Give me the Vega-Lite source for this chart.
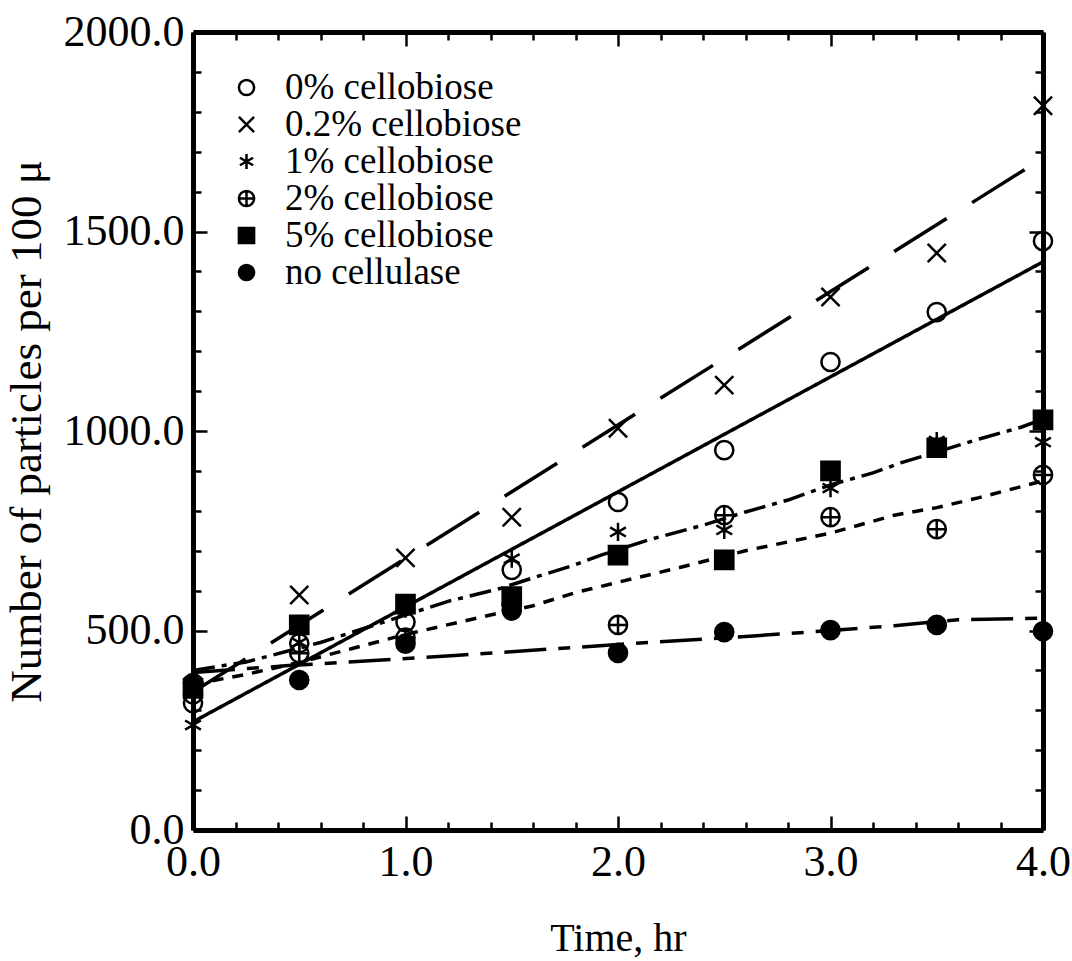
{
  "$schema": "https://vega.github.io/schema/vega-lite/v6.json",
  "width": 850,
  "height": 798,
  "autosize": {"type": "none"},
  "padding": {"left": 193, "top": 32, "right": 29, "bottom": 131},
  "background": "white",
  "config": {
    "font": "Liberation Serif",
    "view": {"stroke": null},
    "axis": {"grid": false, "domainColor": "black", "domainWidth": 5, "tickColor": "black", "tickWidth": 2.5, "labelColor": "black", "titleColor": "black", "labelOverlap": false, "labelBound": false, "labelFlush": false, "titleFontWeight": "normal"}
  },
  "datasets": {
    "points": [
      {"series": "0% cellobiose", "time": 0, "count": 318},
      {"series": "0% cellobiose", "time": 0.5, "count": 468},
      {"series": "0% cellobiose", "time": 1, "count": 521},
      {"series": "0% cellobiose", "time": 1.5, "count": 652},
      {"series": "0% cellobiose", "time": 2, "count": 822},
      {"series": "0% cellobiose", "time": 2.5, "count": 952},
      {"series": "0% cellobiose", "time": 3, "count": 1173},
      {"series": "0% cellobiose", "time": 3.5, "count": 1298},
      {"series": "0% cellobiose", "time": 4, "count": 1476},
      {"series": "0.2% cellobiose", "time": 0, "count": 360},
      {"series": "0.2% cellobiose", "time": 0.5, "count": 589},
      {"series": "0.2% cellobiose", "time": 1, "count": 682},
      {"series": "0.2% cellobiose", "time": 1.5, "count": 784},
      {"series": "0.2% cellobiose", "time": 2, "count": 1007},
      {"series": "0.2% cellobiose", "time": 2.5, "count": 1115},
      {"series": "0.2% cellobiose", "time": 3, "count": 1336},
      {"series": "0.2% cellobiose", "time": 3.5, "count": 1446},
      {"series": "0.2% cellobiose", "time": 4, "count": 1815},
      {"series": "1% cellobiose", "time": 0, "count": 263},
      {"series": "1% cellobiose", "time": 0.5, "count": 470},
      {"series": "1% cellobiose", "time": 1, "count": 555},
      {"series": "1% cellobiose", "time": 1.5, "count": 680},
      {"series": "1% cellobiose", "time": 2, "count": 747},
      {"series": "1% cellobiose", "time": 2.5, "count": 752},
      {"series": "1% cellobiose", "time": 3, "count": 857},
      {"series": "1% cellobiose", "time": 3.5, "count": 975},
      {"series": "1% cellobiose", "time": 4, "count": 972},
      {"series": "2% cellobiose", "time": 0, "count": 340},
      {"series": "2% cellobiose", "time": 0.5, "count": 443},
      {"series": "2% cellobiose", "time": 1, "count": 482},
      {"series": "2% cellobiose", "time": 1.5, "count": 565},
      {"series": "2% cellobiose", "time": 2, "count": 514},
      {"series": "2% cellobiose", "time": 2.5, "count": 789},
      {"series": "2% cellobiose", "time": 3, "count": 784},
      {"series": "2% cellobiose", "time": 3.5, "count": 754},
      {"series": "2% cellobiose", "time": 4, "count": 890},
      {"series": "5% cellobiose", "time": 0, "count": 355},
      {"series": "5% cellobiose", "time": 0.5, "count": 514},
      {"series": "5% cellobiose", "time": 1, "count": 566},
      {"series": "5% cellobiose", "time": 1.5, "count": 585},
      {"series": "5% cellobiose", "time": 2, "count": 689},
      {"series": "5% cellobiose", "time": 2.5, "count": 677},
      {"series": "5% cellobiose", "time": 3, "count": 900},
      {"series": "5% cellobiose", "time": 3.5, "count": 958},
      {"series": "5% cellobiose", "time": 4, "count": 1028},
      {"series": "no cellulase", "time": 0, "count": 368},
      {"series": "no cellulase", "time": 0.5, "count": 376},
      {"series": "no cellulase", "time": 1, "count": 467},
      {"series": "no cellulase", "time": 1.5, "count": 550},
      {"series": "no cellulase", "time": 2, "count": 444},
      {"series": "no cellulase", "time": 2.5, "count": 496},
      {"series": "no cellulase", "time": 3, "count": 501},
      {"series": "no cellulase", "time": 3.5, "count": 514},
      {"series": "no cellulase", "time": 4, "count": 498}
    ],
    "fits": [
      {"fit": "0%", "time": 0, "count": 271},
      {"fit": "0%", "time": 4, "count": 1424},
      {"fit": "0.2%", "time": 0, "count": 346},
      {"fit": "0.2%", "time": 4, "count": 1684},
      {"fit": "5%", "time": 0, "count": 400},
      {"fit": "5%", "time": 0.25, "count": 421},
      {"fit": "5%", "time": 0.6, "count": 470},
      {"fit": "5%", "time": 1.2, "count": 573},
      {"fit": "5%", "time": 1.45, "count": 606},
      {"fit": "5%", "time": 1.6, "count": 632},
      {"fit": "5%", "time": 1.8, "count": 665},
      {"fit": "5%", "time": 1.92, "count": 689},
      {"fit": "5%", "time": 2.15, "count": 728},
      {"fit": "5%", "time": 2.4, "count": 764},
      {"fit": "5%", "time": 2.6, "count": 797},
      {"fit": "5%", "time": 2.8, "count": 827},
      {"fit": "5%", "time": 3, "count": 865},
      {"fit": "5%", "time": 3.2, "count": 895},
      {"fit": "5%", "time": 3.33, "count": 920},
      {"fit": "5%", "time": 3.7, "count": 980},
      {"fit": "5%", "time": 3.9, "count": 1010},
      {"fit": "5%", "time": 4, "count": 1030},
      {"fit": "2%", "time": 0, "count": 365},
      {"fit": "2%", "time": 0.25, "count": 390},
      {"fit": "2%", "time": 0.5, "count": 420},
      {"fit": "2%", "time": 0.75, "count": 455},
      {"fit": "2%", "time": 1, "count": 490},
      {"fit": "2%", "time": 1.4, "count": 539},
      {"fit": "2%", "time": 1.6, "count": 562},
      {"fit": "2%", "time": 1.8, "count": 595},
      {"fit": "2%", "time": 2, "count": 621},
      {"fit": "2%", "time": 2.3, "count": 659},
      {"fit": "2%", "time": 2.6, "count": 700},
      {"fit": "2%", "time": 3, "count": 744},
      {"fit": "2%", "time": 3.3, "count": 789},
      {"fit": "2%", "time": 3.5, "count": 808},
      {"fit": "2%", "time": 3.7, "count": 833},
      {"fit": "2%", "time": 4, "count": 875},
      {"fit": "none", "time": 0, "count": 395},
      {"fit": "none", "time": 0.45, "count": 412},
      {"fit": "none", "time": 0.85, "count": 425},
      {"fit": "none", "time": 1.25, "count": 438},
      {"fit": "none", "time": 2, "count": 465},
      {"fit": "none", "time": 2.6, "count": 485},
      {"fit": "none", "time": 3, "count": 500},
      {"fit": "none", "time": 3.3, "count": 512},
      {"fit": "none", "time": 3.6, "count": 527},
      {"fit": "none", "time": 4, "count": 531}
    ]
  },
  "layer": [
    {
      "data": {"name": "points"},
      "mark": {"type": "point", "opacity": 0},
      "encoding": {
        "x": {
          "field": "time", "type": "quantitative",
          "scale": {"domain": [0, 4], "nice": false, "zero": false},
          "axis": {
            "orient": "bottom",
            "values": [0, 0.2, 0.4, 0.6, 0.8, 1, 1.2, 1.4, 1.6, 1.8, 2, 2.2, 2.4, 2.6, 2.8, 3, 3.2, 3.4, 3.6, 3.8, 4],
            "labelExpr": "datum.value % 1 === 0 ? format(datum.value, '.1f') : ''",
            "tickSize": {"condition": {"test": "datum.value % 1 === 0", "value": -14}, "value": -8},
            "labelFontSize": 44,
            "labelPadding": 24,
            "title": "Time, hr",
            "titleFontSize": 40,
            "titlePadding": 28
          }
        },
        "y": {
          "field": "count", "type": "quantitative",
          "scale": {"domain": [0, 2000], "nice": false},
          "axis": {
            "orient": "left",
            "values": [0, 100, 200, 300, 400, 500, 600, 700, 800, 900, 1000, 1100, 1200, 1300, 1400, 1500, 1600, 1700, 1800, 1900, 2000],
            "labelExpr": "datum.value % 500 === 0 ? format(datum.value, '.1f') : ''",
            "tickSize": {"condition": {"test": "datum.value % 500 === 0", "value": -14}, "value": -8},
            "labelFontSize": 44,
            "labelPadding": 23,
            "title": "Number of particles per 100 μ",
            "titleFontSize": 45,
            "titlePadding": 14
          }
        }
      }
    },
    {
      "data": {"name": "points"},
      "mark": {"type": "point", "opacity": 0},
      "encoding": {
        "x": {
          "field": "time", "type": "quantitative",
          "scale": {"domain": [0, 4], "nice": false, "zero": false},
          "axis": {
            "orient": "top",
            "values": [0, 0.2, 0.4, 0.6, 0.8, 1, 1.2, 1.4, 1.6, 1.8, 2, 2.2, 2.4, 2.6, 2.8, 3, 3.2, 3.4, 3.6, 3.8, 4],
            "labels": false,
            "tickSize": {"condition": {"test": "datum.value % 1 === 0", "value": -14}, "value": -8},
            "title": null
          }
        },
        "y": {
          "field": "count", "type": "quantitative",
          "scale": {"domain": [0, 2000], "nice": false},
          "axis": {
            "orient": "right",
            "values": [0, 100, 200, 300, 400, 500, 600, 700, 800, 900, 1000, 1100, 1200, 1300, 1400, 1500, 1600, 1700, 1800, 1900, 2000],
            "labels": false,
            "tickSize": {"condition": {"test": "datum.value % 500 === 0", "value": -14}, "value": -8},
            "title": null
          }
        }
      }
    },
    {
      "data": {"name": "fits"},
      "mark": {"type": "line", "strokeWidth": 3.5, "color": "black", "clip": false},
      "encoding": {
        "x": {"field": "time", "type": "quantitative", "axis": null},
        "y": {"field": "count", "type": "quantitative", "axis": null},
        "detail": {"field": "fit"},
        "strokeDash": {
          "field": "fit", "type": "nominal", "legend": null,
          "scale": {"domain": ["0%", "0.2%", "5%", "2%", "none"], "range": [[1, 0], [62, 30], [22, 7, 5, 7], [11, 9], [42, 12, 12, 12]]}
        }
      }
    },
    {
      "data": {"name": "points"},
      "mark": {"type": "point", "strokeWidth": 2.5, "size": 330, "opacity": 1},
      "encoding": {
        "x": {"field": "time", "type": "quantitative", "axis": null},
        "y": {"field": "count", "type": "quantitative", "axis": null},
        "shape": {
          "field": "series", "type": "nominal",
          "scale": {
            "domain": ["0% cellobiose", "0.2% cellobiose", "1% cellobiose", "2% cellobiose", "5% cellobiose", "no cellulase"],
            "range": ["circle", "M-1,-1L1,1M1,-1L-1,1", "M0,-1L0,1M-0.87,-0.5L0.87,0.5M-0.87,0.5L0.87,-0.5", "M-1,0A1,1 0 1,0 1,0A1,1 0 1,0 -1,0ZM-1,0L1,0M0,-1L0,1", "square", "circle"]
          },
          "legend": {
            "title": null, "orient": "none", "legendX": 35, "legendY": 37,
            "labelFontSize": 37, "labelFont": "Liberation Serif", "labelColor": "black",
            "symbolSize": 230, "symbolStrokeWidth": 2.5, "labelOffset": 20, "rowPadding": -2, "labelLimit": 400
          }
        },
        "fill": {
          "field": "series", "type": "nominal",
          "scale": {
            "domain": ["0% cellobiose", "0.2% cellobiose", "1% cellobiose", "2% cellobiose", "5% cellobiose", "no cellulase"],
            "range": ["transparent", "transparent", "transparent", "transparent", "black", "black"]
          }
        },
        "stroke": {
          "field": "series", "type": "nominal",
          "scale": {
            "domain": ["0% cellobiose", "0.2% cellobiose", "1% cellobiose", "2% cellobiose", "5% cellobiose", "no cellulase"],
            "range": ["black", "black", "black", "black", "black", "black"]
          }
        }
      }
    }
  ],
  "resolve": {"axis": {"x": "independent", "y": "independent"}}
}
